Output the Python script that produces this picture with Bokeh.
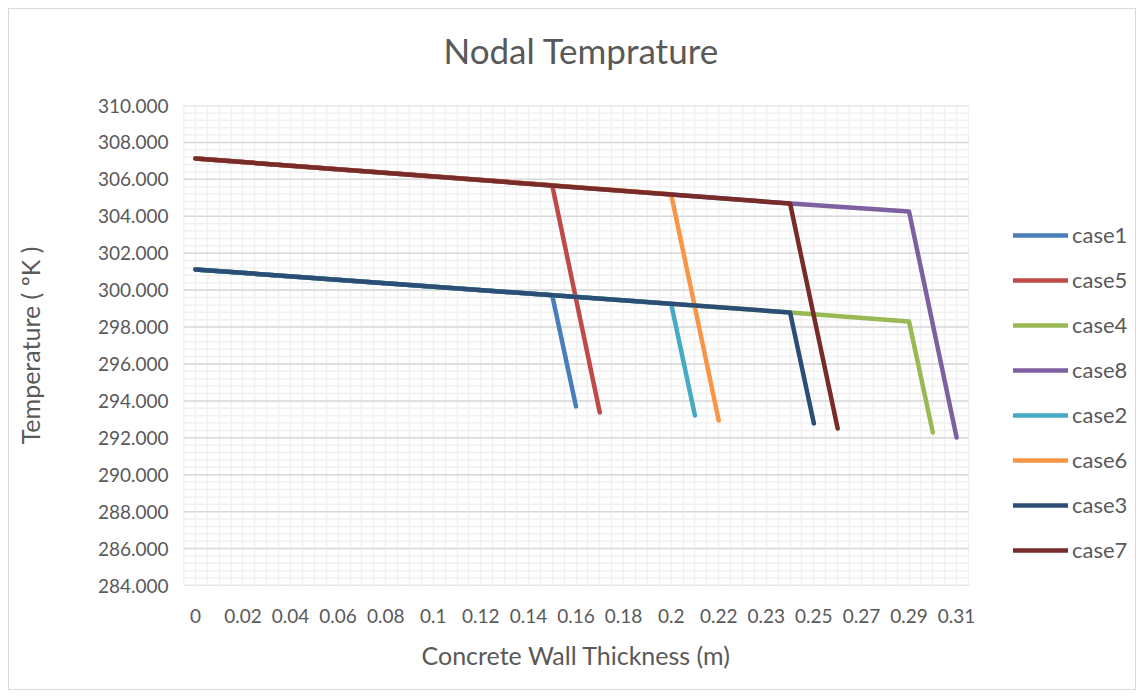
from bokeh.plotting import figure
from bokeh.models import (FixedTicker, Grid, Legend, LegendItem, NumeralTickFormatter,
                          ColumnDataSource, Title)
from bokeh.embed import file_html
from bokeh.resources import INLINE

# Category axis (Excel line chart: points placed by category index)
categories = ["0", "0.01", "0.02", "0.03", "0.04", "0.05", "0.06", "0.07", "0.08", "0.09",
              "0.1", "0.11", "0.12", "0.13", "0.14", "0.15", "0.16", "0.17", "0.18", "0.19",
              "0.2", "0.21", "0.22", "0.225", "0.23", "0.24", "0.25", "0.26", "0.27", "0.28",
              "0.29", "0.3", "0.31"]

# Series: thickness category and nodal temperature (K) at start, kinks and end
case1_x = ["0", "0.15", "0.16"]
case1_y = [301.12, 299.72, 293.70]
case5_x = ["0", "0.15", "0.17"]
case5_y = [307.13, 305.68, 293.37]
case4_x = ["0", "0.24", "0.29", "0.3"]
case4_y = [301.12, 298.79, 298.30, 292.29]
case8_x = ["0", "0.24", "0.29", "0.31"]
case8_y = [307.13, 304.69, 304.26, 292.02]
case2_x = ["0", "0.2", "0.21"]
case2_y = [301.12, 299.26, 293.21]
case6_x = ["0", "0.2", "0.22"]
case6_y = [307.13, 305.19, 292.94]
case3_x = ["0", "0.24", "0.25"]
case3_y = [301.12, 298.79, 292.78]
case7_x = ["0", "0.24", "0.26"]
case7_y = [307.13, 304.69, 292.50]

series = [
    ("case1", case1_x, case1_y, "#4A7EBB"),
    ("case5", case5_x, case5_y, "#BE4B48"),
    ("case4", case4_x, case4_y, "#98B954"),
    ("case8", case8_x, case8_y, "#7D60A0"),
    ("case2", case2_x, case2_y, "#46AAC5"),
    ("case6", case6_x, case6_y, "#F79646"),
    ("case3", case3_x, case3_y, "#2C4D75"),
    ("case7", case7_x, case7_y, "#772C2A"),
]

y_ticks = [284, 286, 288, 290, 292, 294, 296, 298, 300, 302, 304, 306, 308, 310]
y_minor = [284 + 0.4 * k for k in range(66)]

FONT = "Lato"
GRAY = "#595959"

W, H = 1128, 682
LEFT, PLOT_RIGHT = 174, 959          # plot area in figure pixels
n = len(categories)
x_end = -0.5 + n * (W - LEFT) / (PLOT_RIGHT - LEFT)   # frame spans to the right edge (legend room)

p = figure(width=W, height=H, output_backend="svg", toolbar_location=None,
           x_range=(-0.5, x_end), y_range=(284, 310),
           min_border_left=LEFT, min_border_right=0, min_border_top=96, min_border_bottom=106)
p.styles = {"margin": "8px", "border": "1px solid #d9d9d9"}
p.outline_line_color = None
p.background_fill_color = "white"
p.border_fill_color = "white"

# a blank second line lifts the title without growing the top margin
p.title.text = "Nodal Temprature\n "
p.title.align = "left"
p.title.offset = 260
p.title.text_font = FONT
p.title.text_font_size = "35px"
p.title.text_font_style = "normal"
p.title.text_color = GRAY
p.title.text_line_height = 0.7
p.title.standoff = 10

# x axis: labels on every second category
even_idx = list(range(0, n, 2))
p.xaxis.ticker = FixedTicker(ticks=even_idx)
p.xaxis.major_label_overrides = {i: categories[i] for i in even_idx}
p.yaxis.axis_label = "Temperature ( ºK )"
p.yaxis.ticker = FixedTicker(ticks=y_ticks, minor_ticks=y_minor)
p.yaxis.formatter = NumeralTickFormatter(format="0.000")

for ax in (p.xaxis[0], p.yaxis[0]):
    ax.axis_line_color = None
    ax.major_tick_line_color = None
    ax.minor_tick_line_color = None
    ax.major_label_text_font = FONT
    ax.major_label_text_font_size = "19px"
    ax.major_label_text_color = GRAY
    ax.axis_label_text_font = FONT
    ax.axis_label_text_font_size = "25px"
    ax.axis_label_text_font_style = "normal"
    ax.axis_label_text_color = GRAY
p.xaxis.major_label_standoff = 17
p.yaxis.major_label_standoff = 9
p.yaxis.axis_label_standoff = 50

xt = Title(text="Concrete Wall Thickness (m)", align="left", offset=238,
           text_font=FONT, text_font_size="25px", text_font_style="normal",
           text_color=GRAY, standoff=25)
p.add_layout(xt, "below")

# grids (restricted to the plot area)
p.xgrid.grid_line_color = None
p.ygrid.grid_line_color = None
vgrid = Grid(dimension=0, ticker=FixedTicker(ticks=[-0.5 + 0.5 * k for k in range(2 * n + 1)]),
             grid_line_color="#f0f0f0", grid_line_width=1.5)
p.add_layout(vgrid)
p.segment(x0=-0.5, x1=n - 0.5, y0=y_minor, y1=y_minor, line_color="#f0f0f0", line_width=1.5)
p.segment(x0=-0.5, x1=n - 0.5, y0=y_ticks, y1=y_ticks, line_color="#d9d9d9", line_width=1.5)
p.segment(x0=-0.5, x1=-0.5, y0=284, y1=310, line_color="#e6e6e6", line_width=1.5)

items = []
for name, xs, ys, col in series:
    src = ColumnDataSource(dict(x=[categories.index(v) for v in xs], y=ys))
    r = p.line("x", "y", source=src, line_color=col, line_width=4.5,
               line_cap="round", line_join="round")
    items.append(LegendItem(label=name, renderers=[r]))

legend = Legend(items=items, location=(830, 22), orientation="vertical",
                glyph_width=55, glyph_height=20, label_height=20, spacing=18,
                padding=0, margin=0, border_line_color=None, background_fill_alpha=0,
                label_text_font=FONT, label_text_font_size="22px", label_text_color=GRAY,
                label_standoff=4)
p.add_layout(legend, "center")

open("out.html", "w").write(file_html(p, INLINE))
